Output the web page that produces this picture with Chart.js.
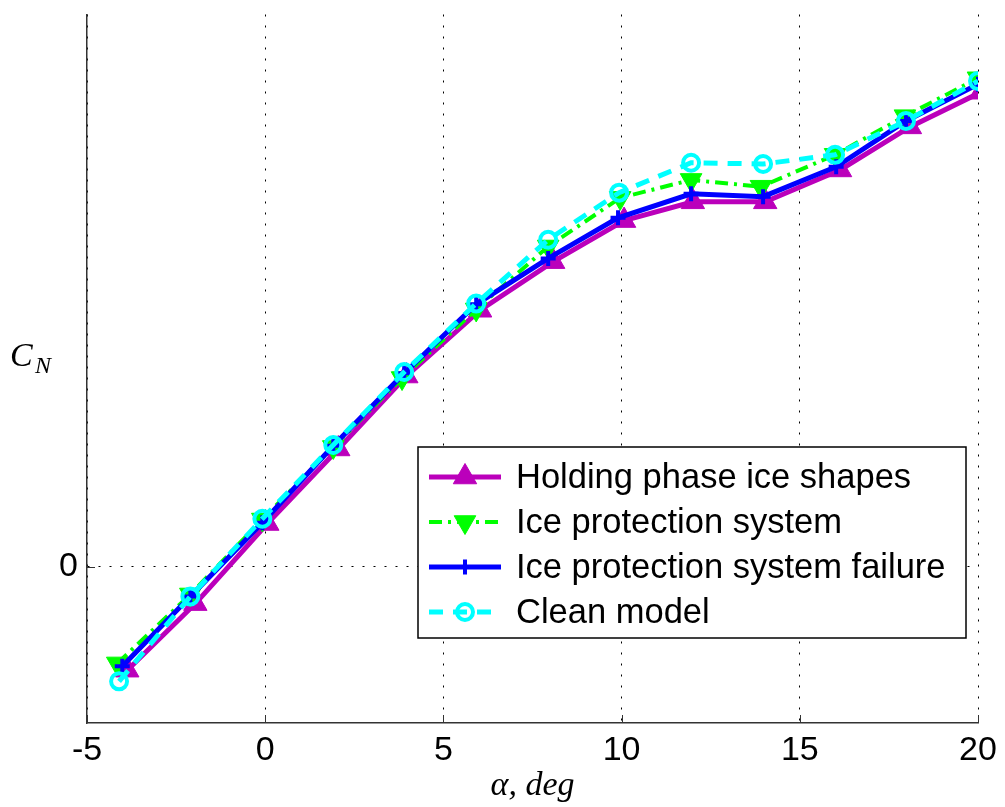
<!DOCTYPE html>
<html>
<head>
<meta charset="utf-8">
<script src="https://cdn.jsdelivr.net/npm/chart.js@4/dist/chart.umd.min.js"></script>
<style>
  body { margin: 0; background: #fff; }
  canvas { display: block; }
</style>
</head>
<body>
<canvas id="myChart" width="1005" height="807"></canvas>
<script>
// angle of attack (deg) and normal force coefficient
var seriesNames = ['Holding phase ice shapes', 'Ice protection system', 'Ice protection system failure', 'Clean model'];

var alphaHolding = [-3.87, -1.96, 0.06, 2.05, 3.96, 6.03, 8.08, 10.07, 12.0, 14.03, 16.13, 18.09, 20.08];
var cnHolding    = [-0.26, -0.093, 0.108, 0.295, 0.478, 0.643, 0.765, 0.868, 0.915, 0.915, 0.995, 1.103, 1.19];

var alphaIps = [-4.15, -2.1, -0.08, 1.91, 3.84, 5.92, 7.94, 9.96, 11.95, 13.91, 15.99, 17.95, 20];
var cnIps    = [-0.243, -0.07, 0.118, 0.30, 0.473, 0.645, 0.803, 0.925, 0.97, 0.953, 1.033, 1.13, 1.225];

var alphaFail = [-4.01, -2.1, -0.08, 1.91, 3.9, 5.92, 7.94, 9.9, 11.95, 13.97, 16.02, 17.98, 20];
var cnFail    = [-0.25, -0.075, 0.11, 0.303, 0.485, 0.658, 0.773, 0.875, 0.935, 0.928, 1.003, 1.118, 1.21];

var alphaClean = [-4.1, -2.1, -0.08, 1.91, 3.9, 5.92, 7.94, 9.93, 11.95, 13.97, 15.99, 17.98, 20];
var cnClean    = [-0.288, -0.075, 0.12, 0.305, 0.488, 0.66, 0.82, 0.938, 1.013, 1.01, 1.033, 1.118, 1.218];

var xTicks = [-5, 0, 5, 10, 15, 20];
var yTicks = [0];

function pts(xs, ys) {
    return xs.map(function (x, i) { return { x: x, y: ys[i] }; });
}

var FONT = '"Liberation Sans", Arial, sans-serif';
var SERIF = '"Liberation Serif", "DejaVu Serif", serif';

var datasets = [
    {
        label: seriesNames[0], data: pts(alphaHolding, cnHolding), order: 3,
        borderColor: '#bb00bb', borderWidth: 5,
        pointStyle: 'triangle', pointRadius: 13.5, pointBackgroundColor: '#bb00bb', pointBorderColor: '#bb00bb', pointBorderWidth: 1
    },
    {
        label: seriesNames[1], data: pts(alphaIps, cnIps), order: 2,
        borderColor: '#00ff00', borderWidth: 4, borderDash: [13, 6, 3, 6],
        pointStyle: 'triangle', pointRotation: 180, pointRadius: 12.5, pointBackgroundColor: '#00ff00', pointBorderColor: '#00ff00', pointBorderWidth: 1
    },
    {
        label: seriesNames[2], data: pts(alphaFail, cnFail), order: 1,
        borderColor: '#0000ff', borderWidth: 5,
        pointStyle: 'cross', pointRadius: 7.5, pointBorderColor: '#0000ff', pointBorderWidth: 4
    },
    {
        label: seriesNames[3], data: pts(alphaClean, cnClean), order: 0,
        borderColor: '#00ffff', borderWidth: 5, borderDash: [14, 10],
        pointStyle: 'circle', pointRadius: 8, pointBackgroundColor: 'rgba(0,0,0,0)', pointBorderColor: '#00ffff', pointBorderWidth: 4
    }
];

// titles, inward ticks and the boxed legend inside the plot
var decorations = {
    id: 'decorations',
    afterDraw: function (chart) {
        var c = chart.ctx, a = chart.chartArea;
        var xs = chart.scales.x, ys = chart.scales.y;
        c.save();
        c.strokeStyle = '#333';
        c.lineWidth = 1;
        xTicks.forEach(function (t) {
            var px = Math.round(xs.getPixelForValue(t)) + 0.5;
            c.beginPath(); c.moveTo(px, a.bottom); c.lineTo(px, a.bottom - 8); c.stroke();
        });
        yTicks.forEach(function (t) {
            var py = Math.round(ys.getPixelForValue(t)) + 0.5;
            c.beginPath(); c.moveTo(a.left, py); c.lineTo(a.left + 8, py); c.stroke();
        });

        // axis titles
        c.fillStyle = '#000';
        c.textBaseline = 'alphabetic';
        c.textAlign = 'center';
        c.font = 'italic 34px ' + SERIF;
        c.fillText('\u03b1, deg', (a.left + a.right) / 2, 795);
        c.textAlign = 'left';
        c.fillText('C', 10, 366);
        c.font = 'italic 24px ' + SERIF;
        c.fillText('N', 35, 373);

        // legend
        var bx = 418, by = 447, bw = 548, bh = 191;
        c.fillStyle = '#fff';
        c.fillRect(bx, by, bw, bh);
        c.strokeStyle = '#000';
        c.lineWidth = 1.5;
        c.strokeRect(bx, by, bw, bh);
        c.font = '34.5px ' + FONT;
        c.textBaseline = 'middle';
        c.textAlign = 'left';
        var rows = [477, 522, 567, 612];
        chart.data.datasets.forEach(function (ds, i) {
            var y = rows[i];
            c.save();
            c.strokeStyle = ds.borderColor;
            c.lineWidth = ds.borderWidth;
            c.setLineDash(ds.borderDash || []);
            c.beginPath(); c.moveTo(429, y); c.lineTo(501, y); c.stroke();
            c.restore();
            c.save();
            c.fillStyle = ds.pointBackgroundColor || 'rgba(0,0,0,0)';
            c.strokeStyle = ds.pointBorderColor;
            c.lineWidth = ds.pointBorderWidth;
            Chart.helpers.drawPoint(c, {
                pointStyle: ds.pointStyle,
                rotation: ds.pointRotation || 0,
                radius: ds.pointRadius,
                borderWidth: ds.pointBorderWidth
            }, 465, y);
            c.restore();
            c.fillStyle = '#000';
            c.fillText(ds.label, 516, y + 1);
        });
        c.restore();
    }
};

var chart = new Chart(document.getElementById('myChart').getContext('2d'), {
    type: 'line',
    data: { datasets: datasets },
    options: {
        responsive: false,
        devicePixelRatio: 1,
        animation: false,
        layout: { padding: { top: 12, right: 27, left: 0, bottom: 0 } },
        plugins: { legend: { display: false }, tooltip: { enabled: false } },
        elements: { line: { tension: 0, fill: false } },
        scales: {
            x: {
                type: 'linear', min: -5, max: 20,
                afterFit: function (s) { s.height = 84; s.paddingLeft = 0; s.paddingRight = 0; },
                afterBuildTicks: function (s) { s.ticks = xTicks.map(function (v) { return { value: v }; }); },
                grid: { color: '#000', lineWidth: 1, drawTicks: false },
                border: { color: '#333', width: 1.5, dash: [2, 9] },
                ticks: { padding: 7, color: '#000', font: { family: FONT, size: 34 } }
            },
            y: {
                type: 'linear', min: -0.3925, max: 1.385,
                afterFit: function (s) { s.width = 87; s.paddingTop = 0; s.paddingBottom = 0; },
                afterBuildTicks: function (s) { s.ticks = yTicks.map(function (v) { return { value: v }; }); },
                grid: { color: '#000', lineWidth: 1, drawTicks: false },
                border: { color: '#333', width: 1.5, dash: [2, 9] },
                ticks: { padding: 9, color: '#000', font: { family: FONT, size: 34 } }
            }
        }
    },
    plugins: [decorations]
});
</script>
</body>
</html>
